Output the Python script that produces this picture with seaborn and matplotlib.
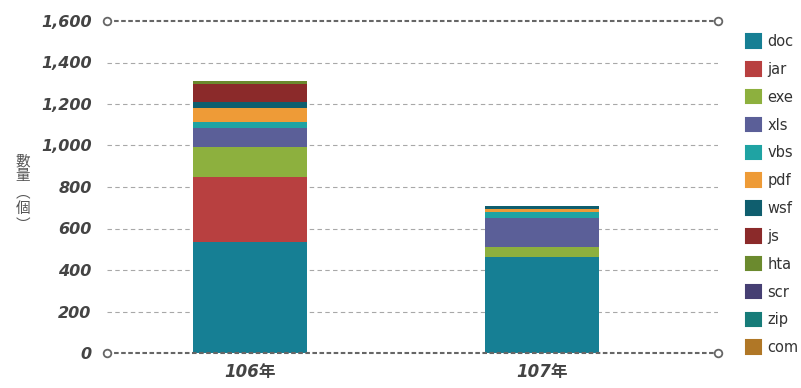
import matplotlib
matplotlib.use("Agg")
import matplotlib.pyplot as plt
from matplotlib.patches import Patch
import numpy as np
import pandas as pd
import seaborn as sns

# ---- data -------------------------------------------------------------
years = ["106年", "107年"]
file_types = ["doc", "jar", "exe", "xls", "vbs", "pdf", "wsf", "js", "hta", "scr", "zip", "com"]
counts_106 = [533, 316, 142, 93, 29, 69, 27, 87, 13, 0, 0, 0]
counts_107 = [463, 0, 48, 141, 29, 11, 18, 0, 0, 0, 0, 0]
colors = ["#167f94", "#b84040", "#8db03e", "#5b5f98", "#1fa3a3", "#ee9b37",
          "#0f5e6e", "#8b2a2a", "#6b8a2e", "#463f73", "#177c79", "#b07726"]
y_ticks = [0, 200, 400, 600, 800, 1000, 1200, 1400, 1600]
y_label = "數量︵個︶"

# ---- figure -----------------------------------------------------------
sns.set_style("white")
plt.rcParams["font.family"] = ["DejaVu Sans", "Noto Sans CJK TC"]

fig = plt.figure(figsize=(8.01, 3.88), dpi=100)
ax = fig.add_axes([107 / 801, 35 / 388, (718 - 107) / 801, (353 - 21) / 388])

df = pd.DataFrame({"year": years * len(file_types),
                   "type": np.repeat(file_types, len(years)),
                   "count": [v for pair in zip(counts_106, counts_107) for v in pair]})
wide = df.pivot(index="year", columns="type", values="count")[file_types]
cum = wide.cumsum(axis=1)

# stacked bars: draw cumulative totals from the top layer down
for t, c in reversed(list(zip(file_types, colors))):
    sns.barplot(x=cum.index, y=cum[t].values, color=c, width=0.39,
                ax=ax, saturation=1, zorder=3, linewidth=0)

ax.set_xlim(-0.49, 1.603)
ax.set_ylim(y_ticks[0], y_ticks[-1])
xmin, xmax = ax.get_xlim()

# light dashed grid in between, darker dashed lines at the limits
for v in y_ticks[1:-1]:
    ax.axhline(v, color="#a8a8a8", lw=0.8, ls=(0, (4, 3)), zorder=1)
for v in (y_ticks[0], y_ticks[-1]):
    ax.plot([xmin, xmax], [v, v], color="#666666", lw=1.5, ls=(0, (2.2, 1.2)),
            marker="o", markevery=[0, 1], ms=5.5, mfc="white", mec="#666666",
            mew=1.3, clip_on=False, zorder=5)

ax.set_yticks(y_ticks)
ax.set_yticklabels([f"{v:,}" for v in y_ticks], fontsize=11.5,
                   fontweight="bold", fontstyle="italic", color="#444444")
ax.tick_params(axis="y", length=0, pad=11)
ax.tick_params(axis="x", length=0, pad=7)
for lbl in ax.get_xticklabels():
    lbl.set_fontsize(12)
    lbl.set_fontweight("bold")
    lbl.set_fontstyle("italic")
    lbl.set_color("#444444")
ax.set_xlabel("")
ax.set_ylabel("")
for s in ax.spines.values():
    s.set_visible(False)

# vertical axis title, one character per row (vertical-form brackets)
label_rows = [161, 176, 193, 209, 225]
for ch, yp in zip(y_label, label_rows):
    fig.text(23 / 801, 1 - yp / 388, ch, ha="center", va="center",
             fontsize=10.5, color="#555555",
             family=["Noto Sans CJK TC", "DejaVu Sans"])

handles = [Patch(facecolor=c, edgecolor=c, linewidth=1.5, joinstyle="round")
           for c in colors]
fig.legend(handles, file_types, loc="upper left",
           bbox_to_anchor=(746 / 801, 1 - 34 / 388), frameon=False,
           fontsize=10.5, handlelength=1.05, handleheight=1.05,
           handletextpad=0.4, labelspacing=0.88, labelcolor="#333333",
           borderaxespad=0, borderpad=0)

fig.savefig("out.png", dpi=100)
